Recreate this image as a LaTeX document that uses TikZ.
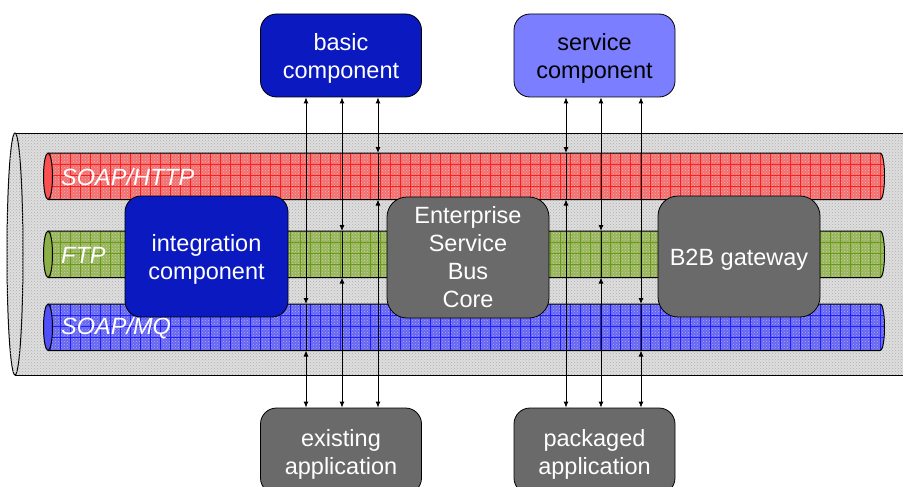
\documentclass[tikz,border=0pt]{standalone}
\usepackage{fontspec}
\setmainfont{Liberation Sans}
\usetikzlibrary{arrows.meta,patterns}

\definecolor{pipefill}{RGB}{222,222,222}
\definecolor{pipedot}{RGB}{175,175,175}
\definecolor{httpfill}{RGB}{240,112,112}
\definecolor{httpgrid}{RGB}{255,30,30}
\definecolor{httpend}{RGB}{250,80,80}
\definecolor{ftpfill}{RGB}{152,180,92}
\definecolor{ftpgrid}{RGB}{105,155,25}
\definecolor{ftpend}{RGB}{140,175,70}
\definecolor{mqfill}{RGB}{102,102,240}
\definecolor{mqgrid}{RGB}{30,30,255}
\definecolor{mqend}{RGB}{80,80,250}
\definecolor{darkblue}{RGB}{10,26,192}
\definecolor{lightblue}{RGB}{122,126,255}
\definecolor{boxgray}{RGB}{106,106,106}

% a tall strut on the first line sets the text a little lower in its box
\newcommand\droptext{\rule{0pt}{23pt}}

\tikzset{
  box/.style={draw=black, line width=0.8, rounded corners=16, minimum width=161,
    minimum height=83, align=center, text=white,
    font=\fontsize{23.5}{28}\selectfont},
  conn/.style={{Latex[length=6pt,width=5pt]}-{Latex[length=6pt,width=5pt]}, line width=0.9},
  pass/.style={line width=0.9},
  tubelabel/.style={anchor=west, text=white, font=\fontsize{23.5}{28}\selectfont\itshape, inner sep=0}
}

\begin{document}
\begin{tikzpicture}[x=1pt,y=-1pt]
\useasboundingbox (0,0) rectangle (903,487);
\clip (0,0) rectangle (903,487);

% outer pipe
\fill[pipefill] (15,133) rectangle (915,375);
\fill[pattern=crosshatch dots, pattern color=pipedot] (15,133) rectangle (915,375);
\draw[line width=1] (15,133) -- (915,133) (15,375) -- (915,375);
\filldraw[fill=pipefill, line width=1] (15,254) ellipse [x radius=8, y radius=121];
\fill[pattern=crosshatch dots, pattern color=pipedot] (15,254) ellipse [x radius=8, y radius=121];

% the three transport tubes
\foreach \ty/\fc/\gc/\ec in {153/httpfill/httpgrid/httpend, 231/ftpfill/ftpgrid/ftpend, 304/mqfill/mqgrid/mqend} {
  \fill[\fc] (48,\ty) -- (880,\ty) .. controls (886,\ty) and (886,\ty+46.5) .. (880,\ty+46.5) -- (48,\ty+46.5) -- cycle;
  \begin{scope}
    \clip (48,\ty) -- (880,\ty) .. controls (886,\ty) and (886,\ty+46.5) .. (880,\ty+46.5) -- (48,\ty+46.5) -- cycle;
    \fill[pattern=crosshatch dots, pattern color=white!45!\fc] (40,\ty) rectangle (890,\ty+47);
    \foreach \gx in {50,60,...,890} \draw[\gc, line width=0.4] (\gx,\ty) -- (\gx,\ty+47);
    \foreach \gy in {11,22,33} \draw[\gc, line width=0.4] (40,\ty+\gy) -- (890,\ty+\gy);
  \end{scope}
  \draw[line width=1] (48,\ty) -- (880,\ty) .. controls (886,\ty) and (886,\ty+46.5) .. (880,\ty+46.5) -- (48,\ty+46.5);
  \filldraw[fill=\ec, line width=1] (48,\ty+23.25) ellipse [x radius=4.5, y radius=23.25];
}
\node[tubelabel] (lhttp) at (61,177.5) {SOAP/HTTP};
\node[tubelabel] (lftp) at (61,255) {FTP};
\node[tubelabel] (lmq) at (61,328) {SOAP/MQ};

% tube edges used as connector end points
\coordinate (httpTop) at (0,153);
\coordinate (httpBot) at (0,199.5);
\coordinate (ftpTop) at (0,231);
\coordinate (ftpBot) at (0,277.5);
\coordinate (mqTop) at (0,304);
\coordinate (mqBot) at (0,350.5);

% components
\node[box, fill=darkblue] (basic) at (341,55.5) {\droptext basic\\component};
\node[box, fill=lightblue, text=black] (service) at (594.5,55.5) {\droptext service\\component};
\node[box, fill=darkblue, minimum width=163, minimum height=121] (integ) at (206.5,256.5) {\droptext integration\\component};
\node[box, fill=boxgray, minimum width=162, minimum height=121, rounded corners=20] (esb) at (468,257.5) {Enterprise\\Service\\Bus\\Core};
\node[box, fill=boxgray, minimum width=162, minimum height=121, rounded corners=20] (b2b) at (739,256.5) {\droptext B2B gateway};
\node[box, fill=boxgray, minimum height=86] (existing) at (341,451) {\droptext existing\\application};
\node[box, fill=boxgray, minimum height=86] (packaged) at (594.5,451) {\droptext packaged\\application};

% connectors: each application box reaches one tube from above and below
\foreach \cx/\up/\tt/\tb/\dn in {306/basic/mqTop/mqBot/existing, 342/basic/ftpTop/ftpBot/existing, 378/basic/httpTop/httpBot/existing,
                               566/service/httpTop/httpBot/packaged, 601/service/ftpTop/ftpBot/packaged, 641/service/mqTop/mqBot/packaged} {
  \draw[conn] (\cx,0 |- \up.south) -- (\cx,0 |- \tt);
  \draw[pass] (\cx,0 |- \tt) -- (\cx,0 |- \tb);
  \draw[conn] (\cx,0 |- \tb) -- (\cx,0 |- \dn.north);
}
\end{tikzpicture}
\end{document}
